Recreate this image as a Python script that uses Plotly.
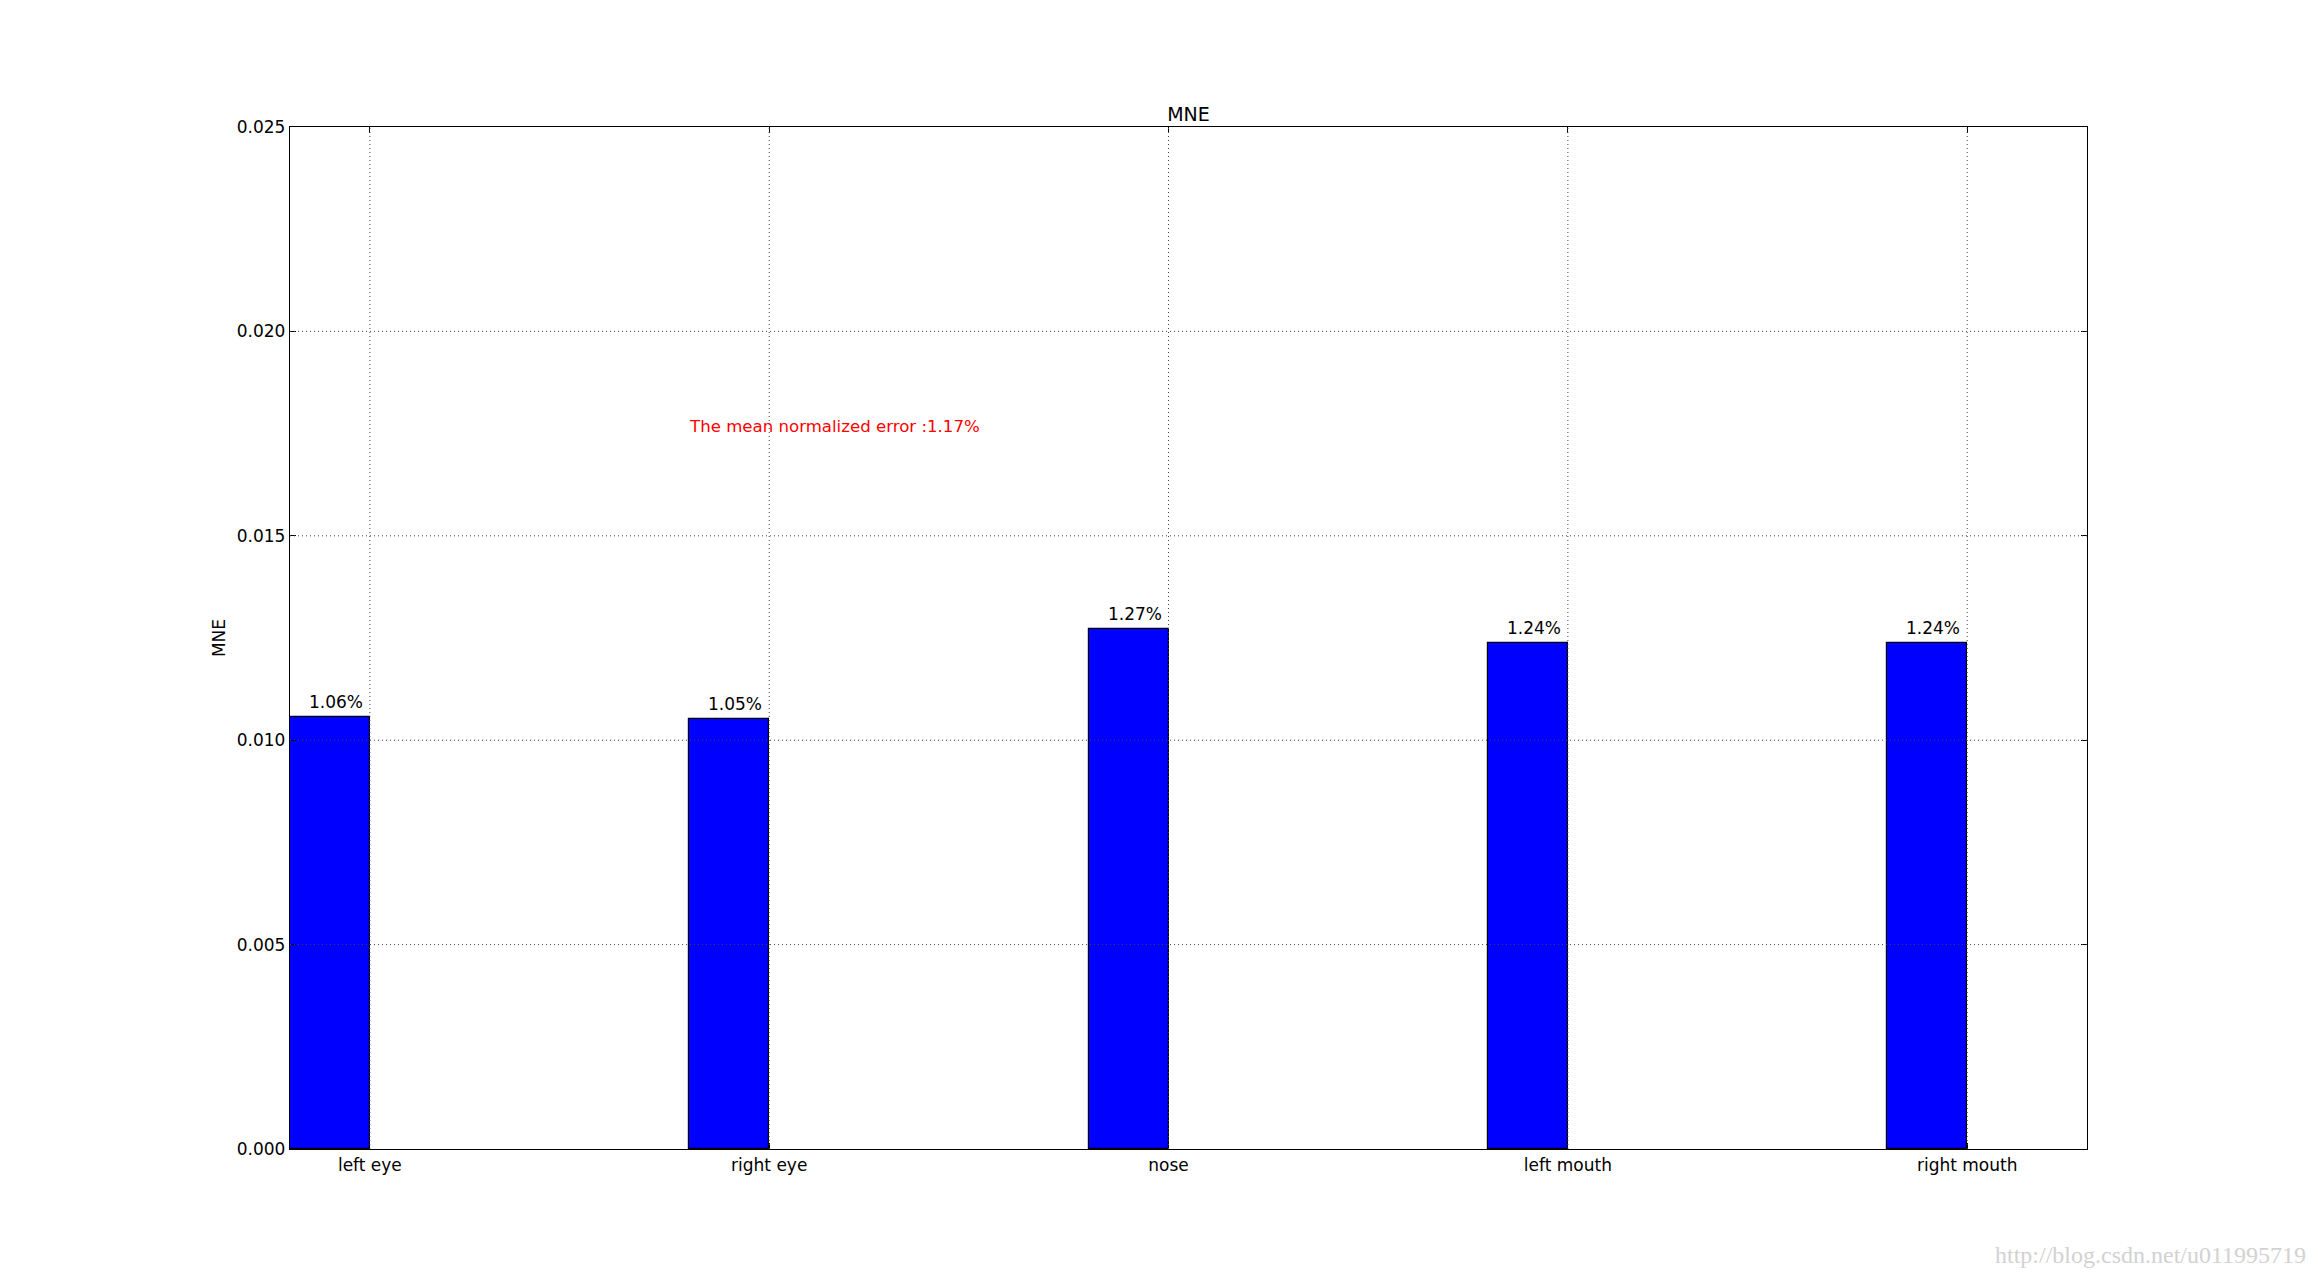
import plotly.graph_objects as go

categories = ["left eye", "right eye", "nose", "left mouth", "right mouth"]
mne_values = [0.01057, 0.01052, 0.01273, 0.01239, 0.01239]
value_labels = ["1.06%", "1.05%", "1.27%", "1.24%", "1.24%"]
bar_positions = [0, 1, 2, 3, 4]
bar_width = 0.2
y_ticks = [0.000, 0.005, 0.010, 0.015, 0.020, 0.025]
mean_text = "The mean normalized error :1.17%"
mean_text_pos = (1.0, 0.0175)
watermark = "http://blog.csdn.net/u011995719"

tick_positions = [p + bar_width for p in bar_positions]

FONT = "DejaVu Sans"
FS = 17
fig = go.Figure()
fig.add_trace(go.Bar(
    x=bar_positions, y=mne_values, width=bar_width, offset=0,
    marker=dict(color="#0000ff", line=dict(color="black", width=1.2)),
    hoverinfo="skip", showlegend=False,
))

annotations = []
for p, v, t in zip(bar_positions, mne_values, value_labels):
    annotations.append(dict(
        x=p + bar_width / 2, y=v, xref="x", yref="y", text=t, showarrow=False,
        xanchor="center", yanchor="bottom", xshift=6, yshift=3,
        font=dict(family=FONT, size=FS, color="black"),
    ))
annotations.append(dict(
    x=mean_text_pos[0], y=mean_text_pos[1], xref="x", yref="y", text=mean_text,
    showarrow=False, xanchor="left", yanchor="bottom", xshift=-2, yshift=-4,
    font=dict(family=FONT, size=16.6, color="red"),
))
annotations.append(dict(
    x=1, y=0, xref="paper", yref="paper", text=watermark, showarrow=False,
    xanchor="right", yanchor="middle", xshift=221, yshift=-106,
    font=dict(family="Liberation Serif", size=24, color="#d2d2d2"),
))

shapes = []
for yv in y_ticks[1:-1]:
    shapes.append(dict(type="line", xref="paper", yref="y", x0=0, x1=1, y0=yv, y1=yv,
                       line=dict(color="#444", width=1, dash="1px,3px"), layer="above"))
for xv in tick_positions:
    shapes.append(dict(type="line", xref="x", yref="paper", x0=xv, x1=xv, y0=0, y1=1,
                       line=dict(color="#444", width=1, dash="1px,3px"), layer="above"))

fig.update_layout(
    width=2318, height=1277,
    margin=dict(l=290, r=231, t=127, b=128),
    paper_bgcolor="white", plot_bgcolor="white",
    title=dict(text="MNE", x=0.5, xref="paper", xanchor="center", y=1, yref="paper",
               yanchor="bottom", pad=dict(b=6), font=dict(family=FONT, size=19, color="black")),
    annotations=annotations, shapes=shapes,
    bargap=0,
)
fig.update_xaxes(
    range=[0, 4.5], tickvals=tick_positions, ticktext=categories,
    showgrid=False, zeroline=False, showline=True, linecolor="black", linewidth=1.3,
    mirror="allticks", ticks="inside", ticklen=6, tickcolor="black",
    tickfont=dict(family=FONT, size=FS, color="black"),
)
fig.update_yaxes(
    range=[0, 0.025], tickvals=y_ticks, tickformat=".3f",
    showgrid=False, zeroline=False, showline=True, linecolor="black", linewidth=1.3,
    mirror="allticks", ticks="inside", ticklen=6, tickcolor="black",
    tickfont=dict(family=FONT, size=FS, color="black"),
    title=dict(text="MNE", font=dict(family=FONT, size=FS, color="black"), standoff=6),
)
fig.write_html("out.html", config={"displayModeBar": False},
               post_script="document.body.style.margin='0';document.body.style.overflow='hidden';")
